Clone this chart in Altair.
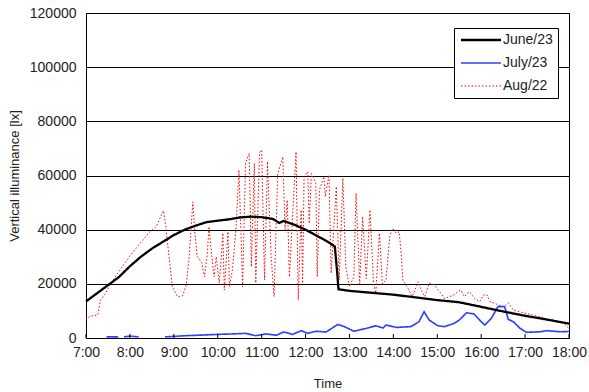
import altair as alt
import pandas as pd

# Vertical illuminance recorded on three days, time of day vs lux
june_time = ["7:00", "7:15", "7:30", "7:45", "8:00", "8:15", "8:30", "8:45", "9:00", "9:15",
             "9:30", "9:45", "10:00", "10:15", "10:30", "10:45", "11:00", "11:15", "11:24", "11:30",
             "11:45", "12:00", "12:15", "12:30", "12:40", "12:43", "12:45", "13:00", "13:30", "14:00",
             "14:30", "15:00", "15:30", "16:00", "16:30", "17:00", "17:30", "18:00"]
june_lux = [13500, 16500, 19500, 22500, 26500, 30000, 33000, 35500, 38000, 40000,
            41500, 42800, 43300, 43800, 44500, 44800, 44600, 44000, 42500, 43200,
            41800, 40000, 37800, 35600, 33800, 25000, 18000, 17400, 16700, 16000,
            15000, 14000, 13200, 11500, 9800, 8200, 6800, 5300]

july_time = ["7:28", "7:44",
             "7:52", "8:00", "8:12",
             "8:48", "9:00", "9:17", "9:40", "10:02", "10:20", "10:38", "10:52", "11:06", "11:20",
             "11:30", "11:34", "11:42", "11:54", "12:03", "12:14", "12:28", "12:44", "12:53", "13:06",
             "13:22", "13:36", "13:46", "13:50", "14:04", "14:24", "14:35", "14:42", "14:49", "15:01",
             "15:10", "15:23", "15:30", "15:40", "15:50", "16:00", "16:05", "16:14", "16:23", "16:32",
             "16:37", "16:44", "16:53", "17:02", "17:20", "17:30", "17:48", "18:00"]
july_lux = [400, 400,
            400, 700, 400,
            400, 600, 850, 1100, 1350, 1500, 1700, 850, 1500, 1000,
            2200, 2000, 1300, 2700, 1700, 2500, 2200, 5000, 4200, 2500,
            3500, 4500, 3700, 4800, 3900, 4200, 6000, 9700, 6600, 4500,
            4200, 5400, 6600, 9300, 8900, 6000, 4800, 7300, 11600, 11600,
            6900, 6000, 3600, 2100, 2300, 2700, 2300, 2400]
# recording pieces (the logger dropped out twice in the early morning)
july_seg = [0, 0,
            1, 1, 1] + [2] * 48

aug_time = ["7:00", "7:05", "7:12", "7:16", "7:20", "7:27", "7:34", "7:45", "7:59", "8:12",
            "8:26", "8:36", "8:43", "8:46", "8:49", "8:54", "8:58", "9:05", "9:12", "9:17",
            "9:21", "9:26", "9:29", "9:32", "9:38", "9:42", "9:46", "9:48", "9:52", "9:55",
            "9:58", "10:02", "10:05", "10:07", "10:09", "10:12", "10:14", "10:16", "10:20", "10:25",
            "10:29", "10:32", "10:34", "10:38", "10:43", "10:46", "10:50", "10:52", "10:57", "11:00",
            "11:04", "11:08", "11:13", "11:17", "11:22", "11:29", "11:32", "11:35", "11:38", "11:47",
            "11:50", "11:54", "11:56", "11:58", "12:03", "12:05", "12:08", "12:14", "12:16", "12:19",
            "12:25", "12:27", "12:32", "12:35", "12:42", "12:46", "12:51", "12:55", "13:00", "13:06",
            "13:09", "13:14", "13:18", "13:23", "13:28", "13:33", "13:36", "13:41", "13:45", "13:50",
            "13:55", "13:59", "14:04", "14:08", "14:11", "14:13", "14:20", "14:26", "14:34", "14:38",
            "14:43", "14:49", "14:56", "15:01", "15:05", "15:10", "15:17", "15:23", "15:28", "15:32",
            "15:37", "15:44", "15:51", "15:58", "16:03", "16:08", "16:12", "16:19", "16:23", "16:31",
            "16:37", "16:44", "16:58", "17:07", "17:16", "17:30", "17:43", "17:52", "18:00"]
aug_lux = [6600, 8000, 8300, 8500, 14000, 16600, 20200, 24500, 30000, 34300,
           38900, 41100, 45400, 47000, 41100, 28800, 19000, 15300, 15500, 19600,
           30000, 50300, 38000, 30000, 28000, 22600, 32000, 41100, 30000, 22600,
           30000, 20300, 30000, 38800, 17700, 30000, 39900, 19000, 25000, 40600,
           62000, 36200, 19000, 64500, 68200, 26300, 64500, 20300, 68200, 69400,
           21400, 65100, 30000, 15300, 60800, 66900, 40000, 50900, 22600, 68800,
           14000, 47300, 20200, 59600, 61400, 42300, 60800, 57100, 22600, 54600,
           59600, 52200, 60200, 23900, 55900, 21400, 59000, 26300, 19000, 22600,
           53400, 20000, 44800, 22000, 47300, 20000, 16600, 38700, 20000, 21400,
           37400, 40500, 38700, 39200, 30000, 21400, 18300, 15300, 20800, 17700,
           15300, 20200, 19600, 17700, 16500, 14600, 15300, 15900, 17100, 17700,
           15300, 17100, 14600, 13400, 15900, 15900, 13400, 12800, 12200, 11600,
           13000, 10300, 9300, 8700, 8100, 6900, 6300, 5600, 3500]

series_names = ["June/23", "July/23", "Aug/22"]
series_colors = ["#000000", "#3040ff", "#ff0000"]
series_widths = [2.3, 1, 1.2]
series_dashes = [[1, 0], [1, 0], [1.5, 2]]

hour_ticks = list(range(7, 19))
lux_ticks = [0, 20000, 40000, 60000, 80000, 100000, 120000]


def to_minutes(t):
    h, m = t.split(":")
    return int(h) * 60 + int(m)


frames = [
    pd.DataFrame({"series": "June/23", "minute": [to_minutes(t) for t in june_time],
                  "lux": june_lux, "seg": 0}),
    pd.DataFrame({"series": "July/23", "minute": [to_minutes(t) for t in july_time],
                  "lux": july_lux, "seg": july_seg}),
    pd.DataFrame({"series": "Aug/22", "minute": [to_minutes(t) for t in aug_time],
                  "lux": aug_lux, "seg": 0}),
]
df = pd.concat(frames, ignore_index=True)
ticks_df = pd.DataFrame({"minute": [h * 60 for h in hour_ticks]})

x_enc = alt.X(
    "minute:Q",
    scale=alt.Scale(domain=[420, 1080], nice=False, zero=False),
    axis=alt.Axis(
        values=[h * 60 for h in hour_ticks],
        labelExpr="floor(datum.value / 60) + ':00'",
        labelOverlap=False,
        labelFlush=False,
        title="Time",
        grid=False,
        ticks=False,
        domain=False,
        labelPadding=7,
        titlePadding=18,
    ),
)
y_enc = alt.Y(
    "lux:Q",
    scale=alt.Scale(domain=[0, 120000], nice=False),
    axis=alt.Axis(
        values=lux_ticks,
        format="d",
        labelOverlap=False,
        labelFlush=False,
        title="Vertical illuminance [lx]",
        grid=True,
        gridColor="#000000",
        gridWidth=1,
        ticks=False,
        domain=False,
        labelPadding=10,
        titlePadding=8,
    ),
)

legend = alt.Legend(
    title=None,
    orient="none",
    legendX=368,
    legendY=15,
    fillColor="white",
    strokeColor="black",
    padding=5,
    symbolType="M-4,0H4",
    symbolSize=100,
    symbolOffset=15,
    labelOffset=15,
    rowPadding=9,
    labelFontSize=14,
    labelFont="Liberation Sans",
    labelColor="#222222",
)

color_enc = alt.Color("series:N", scale=alt.Scale(domain=series_names, range=series_colors), legend=legend)
dash_enc = alt.StrokeDash("series:N", scale=alt.Scale(domain=series_names, range=series_dashes), legend=legend)
width_enc = alt.StrokeWidth("series:N", scale=alt.Scale(domain=series_names, range=series_widths), legend=legend)


def series_layer(name):
    return (
        alt.Chart(df)
        .transform_filter(alt.datum.series == name)
        .mark_line(interpolate="linear")
        .encode(x=x_enc, y=y_enc, color=color_enc, strokeDash=dash_enc,
                strokeWidth=width_enc, detail="seg:N", order="minute:Q")
    )


# hour ticks pointing into the plot from the bottom edge
ticks = (
    alt.Chart(ticks_df)
    .mark_rule(color="black", strokeWidth=1)
    .encode(x=x_enc, y=alt.value(321), y2=alt.value(325))
)

chart = (
    alt.layer(series_layer("Aug/22"), series_layer("July/23"), series_layer("June/23"), ticks)
    .properties(
        width=483,
        height=325,
        autosize="none",
        padding={"left": 86, "top": 13, "right": 20, "bottom": 54},
    )
    .configure_view(stroke="black", strokeWidth=1)
    .configure_axis(
        labelFont="Liberation Sans",
        titleFont="Liberation Sans",
        labelFontSize=14,
        titleFontSize=13,
        labelColor="#222222",
        titleColor="#222222",
        titleFontWeight="normal",
    )
)

chart.save("out.html", embed_options={"renderer": "svg", "actions": False})
